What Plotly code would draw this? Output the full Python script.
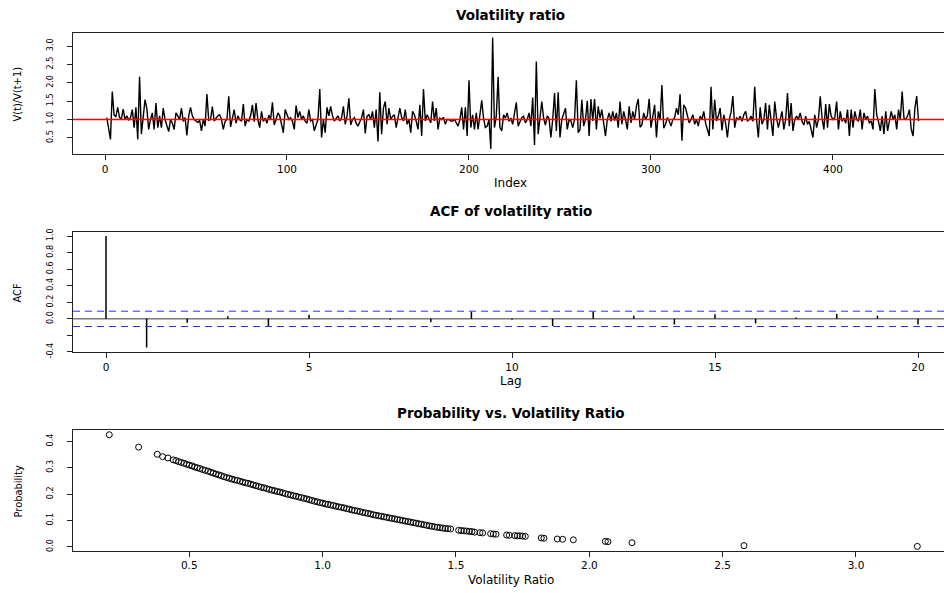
import plotly.graph_objects as go

# ---------------- data ----------------
ratio = [
    1.05, 0.75, 0.46, 1.76, 1.12, 1.08, 1.33, 1.05, 1.02, 1.28,
    1.0, 1.1, 0.98, 1.05, 1.27, 0.78, 1.33, 0.46, 2.16, 0.6,
    1.1, 1.54, 1.3, 0.73, 1.0, 1.18, 0.73, 1.45, 0.78, 1.1, 0.78, 1.31,
    1.0, 0.85, 0.67, 1.0, 0.9, 0.73, 1.18, 1.1, 1.0, 1.31,
    0.95, 1.05, 0.57, 1.1, 1.33, 1.1, 1.0, 0.96, 0.92, 0.98,
    0.69, 1.0, 0.82, 1.69, 0.98, 1.0, 1.35, 0.96, 1.05, 1.1,
    1.13, 1.0, 0.73, 0.95, 1.0, 1.63, 0.8, 1.0, 1.27, 0.9,
    1.1, 1.0, 0.95, 1.42, 0.82, 1.0, 0.96, 1.1, 1.4, 0.94,
    1.45, 1.0, 0.78, 1.22, 0.95, 1.04, 0.9, 1.12, 1.0, 1.47,
    0.85, 1.0, 1.18, 1.1, 0.9, 0.64, 1.27, 1.1, 1.0, 1.05,
    0.95, 0.73, 1.38, 1.05, 1.22, 1.0, 1.1, 0.95, 0.9, 1.27,
    0.96, 1.0, 0.69, 0.85, 1.0, 1.83, 0.51, 1.0, 0.64, 1.33,
    1.1, 1.36, 1.1, 0.96, 1.05, 1.1, 0.96, 1.05, 1.36, 0.87,
    1.1, 1.58, 0.85, 1.0, 1.05, 0.9, 0.82, 0.96, 1.05, 1.27,
    0.62, 1.09, 1.13, 1.0, 1.22, 0.78, 1.27, 0.4, 1.74, 0.6,
    1.31, 1.49, 0.87, 1.31, 1.0, 1.09, 1.13, 0.78, 1.0, 1.31,
    1.06, 0.96, 1.27, 0.87, 1.0, 0.64, 1.22, 1.13, 0.95, 0.73,
    1.4, 0.55, 1.83, 0.96, 1.13, 1.0, 0.91, 1.49, 0.96, 1.31,
    0.73, 1.04, 1.0, 1.06, 0.87, 1.0, 1.0, 0.96, 0.96, 1.0,
    0.91, 0.82, 1.0, 1.33, 0.73, 1.33, 0.55, 2.07,
    0.78, 1.13, 0.73, 1.18, 0.73, 1.22, 1.52, 1.04, 0.78, 0.82,
    1.0, 0.2, 3.23, 0.78, 1.1, 2.16, 0.78, 0.69, 1.13, 1.04,
    1.18, 0.95, 1.04, 0.87, 1.18, 1.47, 0.82, 0.96, 1.05, 1.09,
    0.91, 1.0, 1.18, 0.82, 1.6, 0.31, 2.58, 0.6, 1.0, 1.49,
    1.04, 0.85, 1.1, 1.03, 0.51, 1.0, 1.72, 0.69, 1.74, 0.51,
    1.0, 1.18, 1.31, 0.73, 1.0, 0.96, 0.78, 1.0, 2.07, 0.64,
    0.73, 1.54, 0.82, 1.0, 1.51, 0.55, 1.56, 0.96, 1.56, 0.73,
    1.36, 1.04, 1.27, 0.9, 0.55, 1.0, 1.18, 0.95, 1.22, 0.97,
    1.18, 0.78, 1.49, 0.87, 1.22, 1.0, 0.73, 1.36, 0.91, 1.22,
    1.0, 1.36, 1.56, 0.79, 0.85, 1.18, 1.0, 1.1, 1.56, 0.78,
    1.15, 1.4, 0.51, 1.22, 1.0, 1.94, 0.76, 0.87, 1.05, 0.96,
    0.82, 1.0, 1.05, 1.31, 1.13, 1.69, 0.42, 1.4, 1.31, 1.13,
    0.91, 1.0, 1.13, 0.87, 1.0, 0.82, 1.09, 1.0, 1.22, 0.9,
    0.73, 0.55, 1.89, 0.73, 1.54, 0.96, 1.1, 1.31, 0.7, 1.13,
    0.9, 0.51, 1.0, 1.2, 1.64, 0.78, 1.04, 1.0, 1.09, 0.95,
    1.13, 1.22, 0.96, 1.0, 1.09, 0.95, 1.89, 1.0, 0.51, 1.33,
    0.87, 1.0, 1.45, 0.73, 1.4, 1.0, 0.55, 1.49, 1.04, 0.78,
    1.0, 1.22, 0.73, 1.0, 1.72, 0.82, 1.45, 0.69, 1.0, 1.09,
    1.0, 1.18, 0.95, 0.85, 1.09, 0.87, 0.95, 0.73, 0.51, 1.13,
    0.78, 1.0, 1.63, 1.04, 0.73, 1.42, 0.78, 1.42, 1.09, 1.0,
    1.05, 1.49, 0.73, 1.22, 0.95, 1.04, 0.9, 1.27, 0.55, 1.27,
    0.78, 1.22, 1.0, 0.96, 1.27, 0.73, 1.18, 1.0, 1.09, 0.91,
    0.96, 0.73, 1.83, 1.13, 0.95, 0.69, 1.09, 0.6, 1.22, 0.69,
    1.0, 1.22, 1.0, 1.13, 0.73, 1.27, 1.0, 1.76, 1.04, 1.0,
    1.1, 1.27, 0.73, 0.55, 1.31, 1.64, 0.96,
]
index = list(range(1, len(ratio) + 1))
ref_level = 1.0

acf_lags = list(range(21))
acf_values = [1.0, -0.345, -0.047, 0.032, -0.099, 0.051, 0.008, -0.012, -0.04, 0.087,
              -0.012, -0.087, 0.087, 0.036, -0.067, 0.055, -0.055, 0.016, 0.06, 0.036, -0.067]
conf_bound = 0.0925

prob_ratio = [
    0.20, 0.31, 0.38, 0.40, 0.42,
    0.44, 0.45, 0.46, 0.47, 0.48, 0.49, 0.50, 0.51, 0.52, 0.53,
    0.54, 0.55, 0.56, 0.57, 0.58, 0.59, 0.60, 0.61, 0.62, 0.63,
    0.64, 0.65, 0.66, 0.67, 0.68, 0.69, 0.70, 0.71, 0.72, 0.73,
    0.74, 0.75, 0.76, 0.77, 0.78, 0.79, 0.80, 0.81, 0.82, 0.83,
    0.84, 0.85, 0.86, 0.87, 0.88, 0.89, 0.90, 0.91, 0.92, 0.93,
    0.94, 0.95, 0.96, 0.97, 0.98, 0.99, 1.00, 1.01, 1.02, 1.03,
    1.04, 1.05, 1.06, 1.07, 1.08, 1.09, 1.10, 1.11, 1.12, 1.13,
    1.14, 1.15, 1.16, 1.17, 1.18, 1.19, 1.20, 1.21, 1.22, 1.23,
    1.24, 1.25, 1.26, 1.27, 1.28, 1.29, 1.30, 1.31, 1.32, 1.33,
    1.34, 1.35, 1.36, 1.37, 1.38, 1.39, 1.40, 1.41, 1.42, 1.43,
    1.44, 1.45, 1.46, 1.47, 1.48,
    1.51, 1.52, 1.53, 1.54, 1.55, 1.56, 1.57, 1.59, 1.60, 1.63, 1.64, 1.65,
    1.69, 1.70, 1.72, 1.73, 1.74, 1.75, 1.76,
    1.82, 1.83, 1.88, 1.90, 1.94, 2.06, 2.07, 2.16, 2.58, 3.23,
]
prob_values = [
    0.425, 0.378, 0.351, 0.342, 0.337,
    0.330, 0.327, 0.323, 0.320, 0.317, 0.313, 0.310, 0.307, 0.303, 0.300,
    0.297, 0.293, 0.290, 0.287, 0.283, 0.280, 0.276, 0.273, 0.270, 0.266,
    0.263, 0.260, 0.257, 0.254, 0.252, 0.249, 0.246, 0.243, 0.241, 0.238,
    0.235, 0.232, 0.229, 0.226, 0.224, 0.221, 0.218, 0.215, 0.213, 0.210,
    0.208, 0.205, 0.202, 0.199, 0.197, 0.194, 0.192, 0.189, 0.187, 0.184,
    0.182, 0.179, 0.176, 0.173, 0.171, 0.168, 0.166, 0.163, 0.161, 0.159,
    0.157, 0.154, 0.152, 0.150, 0.148, 0.145, 0.143, 0.140, 0.138, 0.136,
    0.134, 0.131, 0.129, 0.127, 0.125, 0.122, 0.120, 0.118, 0.116, 0.114,
    0.112, 0.110, 0.108, 0.106, 0.104, 0.102, 0.100, 0.098, 0.096, 0.094,
    0.092, 0.090, 0.088, 0.086, 0.084, 0.082, 0.080, 0.078, 0.076, 0.0745,
    0.073, 0.0715, 0.070, 0.069, 0.068,
    0.063, 0.062, 0.061, 0.060, 0.059, 0.058, 0.056, 0.054, 0.053, 0.050, 0.049, 0.048,
    0.045, 0.044, 0.043, 0.042, 0.042, 0.041, 0.040,
    0.034, 0.033, 0.030, 0.029, 0.027, 0.021, 0.020, 0.016, 0.005, 0.002,
]

x1_ticks = [0, 100, 200, 300, 400]
y1_ticks = [0.5, 1.0, 1.5, 2.0, 2.5, 3.0]
x2_ticks = [0, 5, 10, 15, 20]
y2_ticks = [-0.4, -0.2, 0.0, 0.2, 0.4, 0.6, 0.8, 1.0]
y2_labels = ["-0.4", "", "0.0", "0.2", "0.4", "0.6", "0.8", "1.0"]
x3_ticks = [0.5, 1.0, 1.5, 2.0, 2.5, 3.0]
y3_ticks = [0.0, 0.1, 0.2, 0.3, 0.4]

# ---------------- layout helpers (page pixels -> paper fractions) ----------------
W, H = 944, 593


def fx(px):
    return px / W


def fy(py):
    return 1 - py / H


XFONT = dict(family="DejaVu Sans", size=10.5, color="black")
YFONT = dict(family="Liberation Sans Narrow, DejaVu Sans Condensed, Liberation Sans",
             size=9, color="black")
LINEC = "#222222"


def xax(domain_l, rng, ticks, anchor, labels=None):
    d = dict(domain=[domain_l, 1.0], range=rng, tickmode="array", tickvals=ticks,
             showline=True, mirror=True, linecolor=LINEC, linewidth=1,
             ticks="outside", ticklen=5, tickwidth=1, tickcolor=LINEC,
             showgrid=False, zeroline=False, tickfont=XFONT, anchor=anchor)
    if labels is not None:
        d["ticktext"] = labels
    return d


def yax(dom, rng, ticks, anchor, labels=None):
    d = dict(domain=dom, range=rng, tickmode="array", tickvals=ticks,
             ticktext=labels if labels is not None else [("%.1f" % t) for t in ticks],
             showline=True, mirror=False, linecolor=LINEC, linewidth=1,
             ticks="outside", ticklen=5, tickwidth=1, tickcolor=LINEC,
             showgrid=False, zeroline=False, tickfont=YFONT, tickangle=-90,
             ticklabelstandoff=10, anchor=anchor)
    return d


fig = go.Figure()

fig.add_trace(go.Scatter(x=index, y=ratio, mode="lines",
                         line=dict(color="black", width=1.4),
                         xaxis="x", yaxis="y", hoverinfo="skip"))

acf_x, acf_y = [], []
for lag, v in zip(acf_lags, acf_values):
    acf_x += [lag, lag, None]
    acf_y += [0, v, None]
fig.add_trace(go.Scatter(x=acf_x, y=acf_y, mode="lines",
                         line=dict(color="black", width=1.5),
                         xaxis="x2", yaxis="y2", hoverinfo="skip"))

fig.add_trace(go.Scatter(x=prob_ratio, y=prob_values, mode="markers",
                         marker=dict(symbol="circle-open", size=6, color="black",
                                     line=dict(width=1, color="black")),
                         xaxis="x3", yaxis="y3", hoverinfo="skip"))

left = fx(73)
fig.update_layout(
    width=W, height=H, margin=dict(l=0, r=0, t=0, b=0),
    paper_bgcolor="white", plot_bgcolor="white", showlegend=False,
    xaxis=xax(left, [-17.58, 461.0], x1_ticks, "y"),
    yaxis=yax([fy(153.3), fy(30.3)], [0.062, 3.359], y1_ticks, "x"),
    xaxis2=xax(left, [-0.813, 20.64], x2_ticks, "y2"),
    yaxis2=yax([fy(354.6), fy(232.3)], [-0.403, 1.052], y2_ticks, "x2", y2_labels),
    xaxis3=xax(left, [0.064, 3.33], x3_ticks, "y3", ["%.1f" % t for t in x3_ticks]),
    yaxis3=yax([fy(556.0), fy(433.7)], [-0.0138, 0.4425], y3_ticks, "x3"),
)

shapes = [
    dict(type="line", xref="x domain", yref="y", x0=0, x1=1, y0=ref_level, y1=ref_level,
         line=dict(color="#ff0000", width=1.3), layer="above"),
    dict(type="line", xref="x2 domain", yref="y2", x0=0, x1=1, y0=0, y1=0,
         line=dict(color="#777777", width=1.5), layer="below"),
    dict(type="line", xref="x2 domain", yref="y2", x0=0, x1=1, y0=conf_bound, y1=conf_bound,
         line=dict(color="#2b2bff", width=1, dash="7px,5px")),
    dict(type="line", xref="x2 domain", yref="y2", x0=0, x1=1, y0=-conf_bound, y1=-conf_bound,
         line=dict(color="#2b2bff", width=1, dash="7px,5px")),
]
fig.update_layout(shapes=shapes)

TFONT = dict(family="DejaVu Sans", size=13.5, color="black", weight="bold")
AFONT = dict(family="DejaVu Sans", size=12, color="black")
YTFONT = dict(family="Liberation Sans Narrow, DejaVu Sans Condensed, Liberation Sans",
              size=11, color="black")

ann = []
cx = fx(511)
for text, py in [("Volatility ratio", 12), ("ACF of volatility ratio", 211.7),
                 ("Probability vs. Volatility Ratio", 416.7)]:
    ann.append(dict(text=text, x=cx, y=fy(py), xref="paper", yref="paper",
                    xanchor="center", yanchor="middle", showarrow=False, font=TFONT))
for text, py in [("Index", 183), ("Lag", 384), ("Volatility Ratio", 586)]:
    ann.append(dict(text=text, x=cx, y=fy(py), xref="paper", yref="paper",
                    xanchor="center", yanchor="middle", showarrow=False, font=AFONT))
for text, py in [("V(t)/V(t+1)", 93), ("ACF", 295), ("Probability", 496)]:
    ann.append(dict(text=text, x=fx(18), y=fy(py), xref="paper", yref="paper",
                    xanchor="center", yanchor="middle", showarrow=False, textangle=-90,
                    font=YTFONT))
fig.update_layout(annotations=ann)

# remove the browser's default 8px body margin so the figure sits at the window corner
fig.write_html("out.html",
               config={"displayModeBar": False},
               post_script="document.body.style.margin='0';document.body.style.overflow='hidden';")
